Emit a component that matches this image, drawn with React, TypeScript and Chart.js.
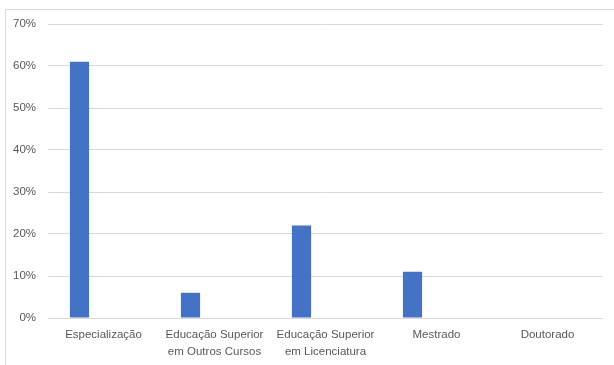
import React, { useEffect, useRef } from "react";
import { Chart, registerables } from "chart.js";

Chart.register(...registerables);

const categories: (string | string[])[] = [
  "Especialização",
  ["Educação Superior", "em Outros Cursos"],
  ["Educação Superior", "em Licenciatura"],
  "Mestrado",
  "Doutorado",
];
const seriesValues = [0.61, 0.06, 0.22, 0.11, 0];
const emptySeries = [null, null, null, null, null];
const yTicks = [0, 0.1, 0.2, 0.3, 0.4, 0.5, 0.6, 0.7];

export default function App() {
  const ref = useRef<HTMLCanvasElement | null>(null);
  useEffect(() => {
    document.body.style.margin = "0";
    const family = "'Liberation Sans', Arial, sans-serif";
    const chart = new Chart(ref.current!, {
      type: "bar",
      data: {
        labels: categories as any,
        datasets: [
          {
            data: seriesValues,
            backgroundColor: "#4472c4",
            categoryPercentage: 0.865,
            barPercentage: 0.4,
          },
          {
            data: emptySeries as any,
            backgroundColor: "#ed7d31",
            categoryPercentage: 0.865,
            barPercentage: 0.4,
          },
        ],
      },
      options: {
        animation: false,
        responsive: false,
        maintainAspectRatio: false,
        layout: { padding: { left: 0, top: 24, right: 11, bottom: 0 } },
        plugins: { legend: { display: false }, tooltip: { enabled: false } },
        scales: {
          x: {
            grid: { display: false },
            border: { display: false },
            ticks: {
              color: "#595959",
              font: { family, size: 11.5, lineHeight: 1.5 },
              padding: 0,
              maxRotation: 0,
              autoSkip: false,
            },
            afterFit: (s: any) => {
              s.height = 47;
            },
          },
          y: {
            min: 0,
            max: 0.7,
            afterBuildTicks: (s: any) => {
              s.ticks = yTicks.map((v) => ({ value: v }));
            },
            grid: { color: "#d9d9d9", drawTicks: false },
            border: { display: false },
            ticks: {
              color: "#595959",
              font: { family, size: 11.5 },
              padding: 12,
              callback: (v: any) => Math.round(Number(v) * 100) + "%",
            },
            afterFit: (s: any) => {
              s.width = 48;
            },
          },
        },
      },
    });
    return () => chart.destroy();
  }, []);
  return (
    <div style={{ position: "relative", width: 614, height: 365, background: "#fff" }}>
      <div
        style={{
          position: "absolute",
          left: 5,
          top: 9,
          width: 620,
          height: 370,
          border: "1px solid #d9d9d9",
          boxSizing: "border-box",
        }}
      />
      <canvas ref={ref} width={614} height={365} style={{ position: "absolute", left: 0, top: 0 }} />
    </div>
  );
}
